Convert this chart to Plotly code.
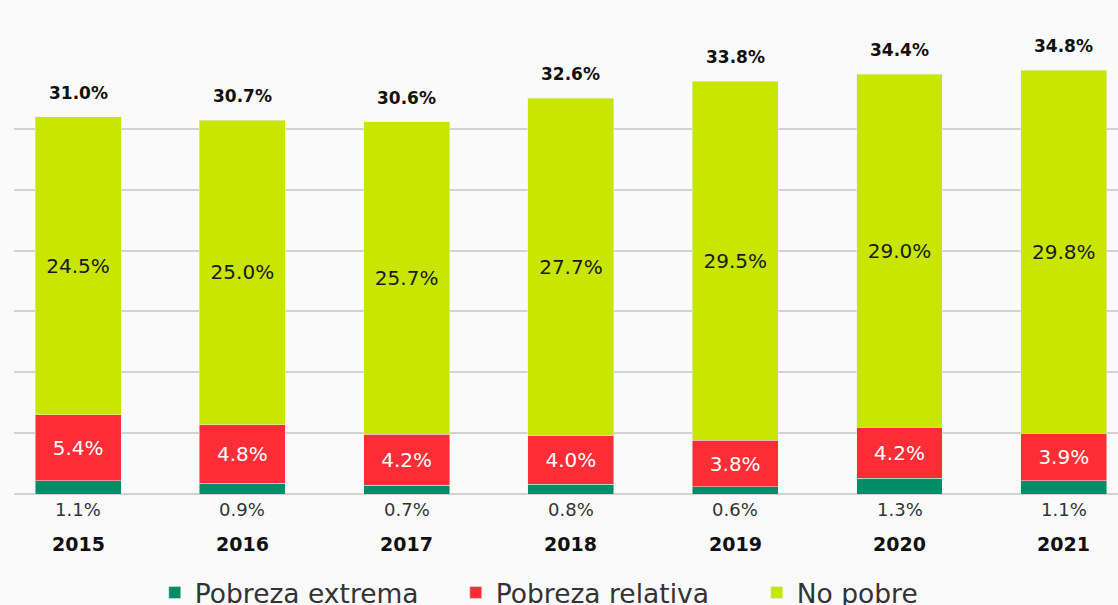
import plotly.graph_objects as go

years = ["2015", "2016", "2017", "2018", "2019", "2020", "2021"]
extrema = [1.1, 0.9, 0.7, 0.8, 0.6, 1.3, 1.1]
relativa = [5.4, 4.8, 4.2, 4.0, 3.8, 4.2, 3.9]
no_pobre = [24.5, 25.0, 25.7, 27.7, 29.5, 29.0, 29.8]
totales = [31.0, 30.7, 30.6, 32.6, 33.8, 34.4, 34.8]

C_EXT = "#008c69"
C_REL = "#ff2d36"
C_NOP = "#c8e600"
FONT = "DejaVu Sans"

fig = go.Figure()
fig.add_trace(go.Bar(x=years, y=extrema, name="Pobreza extrema", marker_color=C_EXT,
                     width=0.523, hoverinfo="skip"))
fig.add_trace(go.Bar(x=years, y=relativa, name="Pobreza relativa", marker_color=C_REL,
                     width=0.523, text=[f"{v:.1f}%" for v in relativa],
                     textposition="inside", insidetextanchor="middle",
                     textfont=dict(color="white", size=20, family=FONT)))
fig.add_trace(go.Bar(x=years, y=no_pobre, name="No pobre", marker_color=C_NOP,
                     width=0.523, text=[f"{v:.1f}%" for v in no_pobre],
                     textposition="inside", insidetextanchor="middle",
                     textfont=dict(color="#1a1a1a", size=20, family=FONT)))

for i, yr in enumerate(years):
    top = extrema[i] + relativa[i] + no_pobre[i]
    fig.add_annotation(x=i, y=top, text=f"<b>{totales[i]:.1f}%</b>",
                       showarrow=False, yanchor="bottom", yshift=12,
                       font=dict(size=17, color="#111", family=FONT))
    fig.add_annotation(x=i, y=0, text=f"{extrema[i]:.1f}%", showarrow=False,
                       yanchor="middle", yshift=-15,
                       font=dict(size=18, color="#333", family=FONT))
    fig.add_annotation(x=i, y=0, text=f"<b>{yr}</b>", showarrow=False,
                       yanchor="middle", yshift=-50,
                       font=dict(size=19, color="#111", family=FONT))

fig.update_layout(
    barmode="stack",
    width=1118, height=605,
    margin=dict(l=14, r=0, t=68, b=111, autoexpand=False),
    paper_bgcolor="#fafafa", plot_bgcolor="#fafafa",
    font=dict(family=FONT, color="#222"),
    showlegend=True,
    legend=dict(orientation="h", x=0.1275, xanchor="left", y=-0.232, yanchor="middle",
                font=dict(size=26.5, color="#333", family=FONT),
                entrywidth=256, entrywidthmode="pixels",
                traceorder="normal", bgcolor="rgba(0,0,0,0)"),
    xaxis=dict(type="category", range=[-0.39, 6.33], showticklabels=False, showgrid=False,
               zeroline=False, showline=False),
    yaxis=dict(range=[0, 35], dtick=5, showticklabels=False, showgrid=True,
               gridcolor="#d2d2d2", gridwidth=2, zeroline=True, zerolinecolor="#d2d2d2",
               zerolinewidth=2),
)

fig.write_html("out.html", config={"displayModeBar": False},
               post_script="document.body.style.margin='0';")
